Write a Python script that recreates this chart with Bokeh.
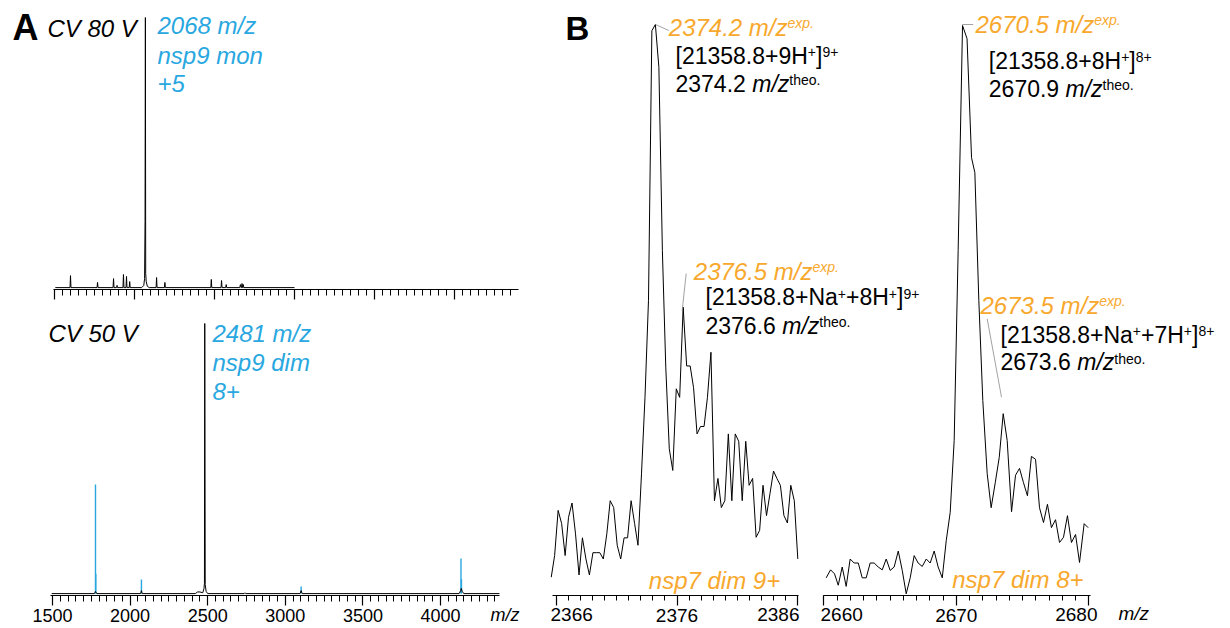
from bokeh.plotting import figure
from bokeh.models import Range1d, LinearAxis, FixedTicker, Label
from bokeh.embed import file_html
from bokeh.resources import INLINE

W, H = 1230, 628
FONT = "Liberation Sans"
BLUE = "#29A7E0"
ORANGE = "#F8A82D"
BLACK = "#000000"

# ---------------- data ----------------
# Panel A, CV 80 V (relative intensity, %)
a1_mz = [1505, 1597, 1600, 1603, 1766, 1769, 1772, 1866, 1869, 1872, 1888, 1891, 1894,
         1928, 1931, 1934, 1947, 1950, 1953, 1967, 1970, 1973,
         2045, 2058, 2063, 2066, 2068, 2070, 2073, 2080, 2092,
         2135, 2138, 2141, 2187, 2190, 2193, 2477, 2480, 2483, 2541, 2544, 2547,
         2570, 2573, 2576, 2658, 2662, 2666, 2669, 2672, 2675, 2677, 2680, 2683, 3000]
a1_int = [0.7, 0.7, 5.1, 0.7, 0.7, 2.6, 0.7, 0.7, 4.0, 0.7, 0.7, 1.5, 0.7,
          0.7, 5.5, 0.7, 0.7, 4.8, 0.7, 0.7, 2.9, 0.7,
          0.7, 1.5, 4.0, 25.0, 100.0, 6.0, 3.0, 1.2, 0.7,
          0.7, 4.4, 0.7, 0.7, 2.6, 0.7, 0.7, 3.7, 0.7, 0.7, 3.3, 0.7,
          0.7, 1.8, 0.7, 0.7, 1.8, 0.7, 0.7, 2.2, 0.7, 0.7, 1.8, 0.7, 0.7]

# Panel A, CV 50 V
a2_mz = [1495, 1770, 1777, 1785, 2068, 2073, 2078,
         2420, 2435, 2450, 2468, 2476, 2479, 2481, 2484, 2490, 2500,
         2735, 2740, 2745, 3095, 3102, 3109, 4120, 4130, 4134, 4140, 4150, 4380]
a2_int = [0.7, 0.7, 1.5, 0.7, 0.7, 1.8, 0.7,
          0.7, 1.3, 1.3, 1.0, 2.5, 4.5, 100.0, 4.0, 1.5, 0.7,
          0.7, 1.0, 0.7, 0.7, 1.8, 0.7, 0.7, 1.8, 2.6, 1.5, 0.7, 0.7]
a2_blue_mz = [1777, 1779, 2073, 3102, 4132, 4135]
a2_blue_int = [40.8, 8.0, 5.9, 3.3, 13.6, 6.0]
a2_base = 0.7

# Panel B, nsp7 dim 9+
b1_mz = [2365.59, 2365.87, 2366.16, 2366.45, 2366.74, 2367.02, 2367.31, 2367.60, 2367.89, 2368.17,
         2368.46, 2368.75, 2369.04, 2369.32, 2369.61, 2369.90, 2370.19, 2370.47, 2370.76, 2371.05,
         2371.34, 2371.62, 2371.91, 2372.20, 2372.49, 2372.77, 2373.06, 2373.35, 2373.64, 2373.92,
         2374.21, 2374.50, 2374.79, 2375.07, 2375.36, 2375.65, 2375.94, 2376.22, 2376.51, 2376.80,
         2377.09, 2377.37, 2377.66, 2377.95, 2378.24, 2378.52, 2378.81, 2379.10, 2379.39, 2379.67,
         2379.96, 2380.25, 2380.54, 2380.82, 2381.11, 2381.40, 2381.69, 2381.97, 2382.26, 2382.55,
         2382.84, 2383.12, 2383.41, 2383.70, 2383.99, 2384.27, 2384.56, 2384.85, 2385.14, 2385.42,
         2385.71, 2386.00]
b1_int = [3.2, 7.0, 14.9, 12.6, 7.0, 13.7, 16.2, 10.8, 3.6, 10.1,
          6.4, 3.6, 7.5, 7.5, 7.5, 6.4, 10.8, 16.6, 15.4, 8.8,
          6.4, 10.1, 10.1, 16.6, 12.6, 8.8, 21.3, 34.7, 51.7, 98.9,
          100.0, 92.5, 60.4, 40.0, 25.7, 21.9, 36.2, 34.7, 50.5, 40.2,
          40.2, 36.4, 28.3, 29.6, 29.6, 34.7, 42.6, 16.6, 20.5, 15.4,
          16.6, 28.3, 16.6, 28.3, 27.0, 16.6, 27.0, 19.3, 20.5, 10.2,
          11.4, 19.3, 14.0, 17.9, 21.8, 20.5, 19.3, 14.0, 12.7, 19.3,
          16.6, 6.4]

# Panel B, nsp7 dim 8+
b2_mz = [2660.18, 2660.51, 2660.81, 2661.09, 2661.39, 2661.69, 2661.99, 2662.29, 2662.60, 2662.90,
         2663.20, 2663.50, 2663.80, 2664.11, 2664.41, 2664.71, 2665.01, 2665.31, 2665.62, 2665.92,
         2666.22, 2666.52, 2666.82, 2667.12, 2667.43, 2667.73, 2668.03, 2668.33, 2668.63, 2668.94,
         2669.24, 2669.54, 2669.84, 2670.14, 2670.47, 2670.81, 2671.15, 2671.40, 2671.70, 2672.00,
         2672.33, 2672.63, 2672.94, 2673.24, 2673.54, 2673.84, 2674.17, 2674.47, 2674.77, 2675.07,
         2675.37, 2675.67, 2675.98, 2676.28, 2676.58, 2676.88, 2677.18, 2677.49, 2677.79, 2678.09,
         2678.39, 2678.69, 2679.00, 2679.30, 2679.65, 2679.95]
b2_int = [3.1, 4.5, 3.8, 1.8, 5.0, 1.6, 6.4, 5.7, 5.7, 3.1,
          3.1, 5.7, 5.7, 5.0, 4.5, 6.4, 4.4, 5.0, 7.8, 4.4,
          0.3, 3.1, 7.0, 5.7, 5.1, 6.4, 5.7, 7.8, 5.0, 3.1,
          9.6, 14.6, 27.2, 60.5, 100.0, 97.7, 76.8, 74.2, 51.8, 34.2,
          21.4, 15.4, 19.8, 24.2, 31.9, 27.2, 14.7, 21.1, 22.3, 19.8,
          17.5, 24.4, 23.9, 15.4, 12.8, 16.0, 11.9, 13.3, 9.3, 10.2,
          14.0, 9.3, 10.7, 5.8, 12.6, 11.9]

# ticks
a_major = [1500, 2000, 2500, 3000, 3500, 4000]
a1_minor = list(range(1500, 4400, 50))
a2_minor = list(range(1500, 4383, 50))
b1_major = [2366, 2376, 2386]
b1_minor = list(range(2366, 2387))
b2_major = [2660, 2670, 2680]
b2_minor = list(range(2660, 2681))

# ---------------- figure ----------------
p = figure(width=W, height=H, x_range=Range1d(0, W), y_range=Range1d(H, 0),
           min_border=0, x_axis_type=None, y_axis_type=None,
           toolbar_location=None, output_backend="svg")
p.outline_line_color = None
p.background_fill_color = "white"
p.border_fill_color = "white"


def xr(v0, p0, v1, p1):
    k = (v1 - v0) / (p1 - p0)
    return Range1d(v0 - p0 * k, v0 + (W - p0) * k)


def yr(v0, p0, v1, p1):
    k = (v1 - v0) / (p1 - p0)
    return Range1d(v0 + (H - p0) * k, v0 - p0 * k)


p.extra_x_ranges = {
    "a1x": xr(1500, 54, 2000, 134),
    "a2x": xr(1500, 52, 4000, 440),
    "b1x": xr(2366, 555.7, 2386, 797.3),
    "b2x": xr(2660, 823.3, 2680, 1088.3),
}
p.extra_y_ranges = {
    "a1y": yr(0, 289, 100, 17),
    "a2y": yr(0, 595, 100, 323),
    "b1y": yr(0, 595, 100, 24),
    "b2y": yr(0, 595, 100, 25),
}

# spectra
p.line(a1_mz, a1_int, x_range_name="a1x", y_range_name="a1y", line_color=BLACK, line_width=1)
p.segment(x0=a2_blue_mz, y0=[a2_base] * len(a2_blue_mz), x1=a2_blue_mz, y1=a2_blue_int,
          x_range_name="a2x", y_range_name="a2y", line_color=BLUE, line_width=1.4)
p.line(a2_mz, a2_int, x_range_name="a2x", y_range_name="a2y", line_color=BLACK, line_width=1)
p.line(b1_mz, b1_int, x_range_name="b1x", y_range_name="b1y", line_color=BLACK, line_width=1)
p.line(b2_mz, b2_int, x_range_name="b2x", y_range_name="b2y", line_color=BLACK, line_width=1)


def add_axis(xn, yn, bounds, majors, minors, hidden, minor_out, label_size):
    ax = LinearAxis(x_range_name=xn, y_range_name=yn, fixed_location=0, bounds=bounds,
                    ticker=FixedTicker(ticks=majors, minor_ticks=minors))
    ax.axis_line_color = BLACK
    ax.axis_line_width = 1.2
    ax.major_tick_line_color = BLACK
    ax.major_tick_line_width = 1.2
    ax.minor_tick_line_color = BLACK
    ax.minor_tick_line_width = 1
    ax.major_tick_in = 0
    ax.major_tick_out = 10
    ax.minor_tick_in = 0
    ax.minor_tick_out = minor_out
    ax.major_label_text_font = FONT
    ax.major_label_text_font_size = label_size
    ax.major_label_text_color = BLACK
    ax.major_label_standoff = 3
    if hidden:
        ax.major_label_overrides = {t: "" for t in hidden}
    p.add_layout(ax, "below")
    return ax


add_axis("a1x", "a1y", (1494, 4400), a_major, a1_minor, a_major, 6, "18px")
add_axis("a2x", "a2y", (1490, 4383), a_major, a2_minor, [], 6, "18px")
# end labels of panel B are set inside the axis extent (as in the original figure)
add_axis("b1x", "b1y", (2365.69, 2386.07), b1_major, b1_minor, [b1_major[0], b1_major[-1]], 5, "19px")
add_axis("b2x", "b2y", (2660, 2680.13), b2_major, b2_minor, [b2_major[0], b2_major[-1]], 5, "19px")

# ---------------- texts ----------------
ARIAL = {'.': 278, ' ': 278, '[': 278, ']': 278, '+': 584, 'H': 722, 'N': 722, 'a': 556,
         'm': 833, '/': 278, 'z': 500, 'e': 556, 'x': 500, 'p': 556, 't': 278, 'h': 556,
         'o': 556}


def tw(s, size):
    return sum(ARIAL.get(c, 556) for c in s) * size / 1000.0


def label(x, y, text, size, style="normal", color=BLACK, align="left"):
    # y is the text baseline in pixels; the label is anchored at the middle of its line box
    p.add_layout(Label(x=x, y=y - 0.35 * size, text=text, text_font=FONT,
                       text_font_size=f"{size}px", text_font_style=style, text_color=color,
                       text_baseline="middle", text_align=align))


def rich(x, y, parts):
    for text, size, style, color, rise in parts:
        label(x, y - rise, text, size, style, color)
        x += tw(text, size)


def exp_label(x, y, value):
    rich(x, y, [(value + " m/z", 24, "italic", ORANGE, 0), ("exp.", 14, "italic", ORANGE, 8)])


def theo_label(x, y, value):
    rich(x, y, [(value + " ", 23, "normal", BLACK, 0), ("m/z", 23, "italic", BLACK, 0),
                ("theo.", 14, "normal", BLACK, 7)])


def ion_label(x, y, pieces, charge):
    parts = []
    for piece in pieces:
        parts.append((piece, 23, "normal", BLACK, 0))
        parts.append(("+", 14, "normal", BLACK, 7))
    parts.append(("]", 23, "normal", BLACK, 0))
    parts.append((charge, 14, "normal", BLACK, 7))
    rich(x, y, parts)


# Panel A
label(12, 39.5, "A", 36, "bold")
label(47, 36, "CV 80 V", 24, "italic")
label(157, 33, "2068 m/z", 24, "italic", BLUE)
label(157, 63, "nsp9 mon", 24, "italic", BLUE)
label(157, 91.5, "+5", 24, "italic", BLUE)
label(48, 341.7, "CV 50 V", 24, "italic")
label(212, 341.7, "2481 m/z", 24, "italic", BLUE)
label(212, 370.7, "nsp9 dim", 24, "italic", BLUE)
label(212, 399.3, "8+", 24, "italic", BLUE)
label(490, 621, "m/z", 18, "italic")

# Panel B
label(565, 40, "B", 33, "bold")
exp_label(668.3, 35, "2374.2")
ion_label(675, 63.3, ["[21358.8+9H"], "9+")
theo_label(675, 91.7, "2374.2")
exp_label(693.3, 279.3, "2376.5")
ion_label(705, 305, ["[21358.8+Na", "+8H"], "9+")
theo_label(705, 333.3, "2376.6")

exp_label(975, 32.7, "2670.5")
ion_label(988.3, 68.3, ["[21358.8+8H"], "8+")
theo_label(988.3, 96.7, "2670.9")
exp_label(980, 313.3, "2673.5")
ion_label(1000, 342.7, ["[21358.8+Na", "+7H"], "8+")
theo_label(1000, 370, "2673.6")

label(648.3, 588.3, "nsp7 dim 9+", 24, "italic", ORANGE)
label(951.7, 587.3, "nsp7 dim 8+", 24, "italic", ORANGE)
label(1118, 620, "m/z", 19, "italic")

# end tick labels of panel B
label(550, 621, str(b1_major[0]), 19)
label(799, 621, str(b1_major[-1]), 19, align="right")
label(820, 621, str(b2_major[0]), 19)
label(1097, 621, str(b2_major[-1]), 19, align="right")

# leader lines from peaks to their labels
p.segment(x0=[655, 681.7, 961.7, 986.7], y0=[24, 310, 24, 318.3],
          x1=[668.3, 685.7, 972.7, 1001], y1=[30, 273, 24, 396.7],
          line_color="#8a8a8a", line_width=0.8)

open("out.html", "w").write(file_html(p, INLINE))
